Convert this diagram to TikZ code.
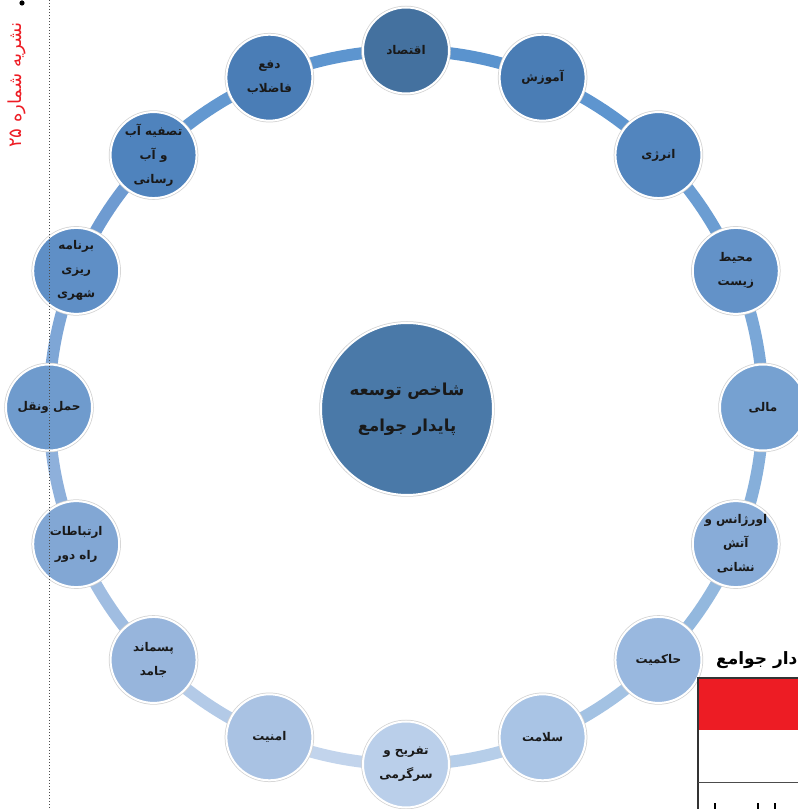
\documentclass[tikz,border=0pt]{standalone}
\usepackage{fontspec}
\newfontfamily\arabicfont[Script=Arabic]{DejaVu Sans}
\TeXXeTstate=1
\newcommand{\fa}[1]{{\arabicfont\beginR #1\endR}}
\definecolor{c0}{HTML}{44719F}
\definecolor{c1}{HTML}{4A7DB5}
\definecolor{c2}{HTML}{5285BE}
\definecolor{c3}{HTML}{6392C8}
\definecolor{c4}{HTML}{76A1D1}
\definecolor{c5}{HTML}{88ACD8}
\definecolor{c6}{HTML}{99B8DF}
\definecolor{c7}{HTML}{A9C4E5}
\definecolor{c8}{HTML}{BACFEA}
\definecolor{c9}{HTML}{A9C2E3}
\definecolor{c10}{HTML}{97B5DC}
\definecolor{c11}{HTML}{82A7D4}
\definecolor{c12}{HTML}{6F9BCD}
\definecolor{c13}{HTML}{5F8FC6}
\definecolor{c14}{HTML}{4F83BD}
\definecolor{c15}{HTML}{4A7DB6}
\definecolor{cc}{HTML}{4A79A8}
\definecolor{a0}{HTML}{5A93CE}
\definecolor{a1}{HTML}{5E95CF}
\definecolor{a2}{HTML}{6B9DD2}
\definecolor{a3}{HTML}{7AA7D7}
\definecolor{a4}{HTML}{86AFDA}
\definecolor{a5}{HTML}{93B8DE}
\definecolor{a6}{HTML}{A3C2E3}
\definecolor{a7}{HTML}{B6CEE9}
\definecolor{a8}{HTML}{C2D4EC}
\definecolor{a9}{HTML}{B3CAE7}
\definecolor{a10}{HTML}{A0BDE1}
\definecolor{a11}{HTML}{8EB0DB}
\definecolor{a12}{HTML}{7EA6D6}
\definecolor{a13}{HTML}{6E9BD1}
\definecolor{a14}{HTML}{6398D0}
\definecolor{a15}{HTML}{5D95CF}
\definecolor{pagered}{HTML}{ED1C24}
\begin{document}
\begin{tikzpicture}[x=1pt,y=1pt,
  ringnode/.style={circle, minimum size=86pt, inner sep=-20pt, align=center,
    draw=white, line width=2pt,
    preaction={draw=gray!35, line width=3.5pt},
    font=\arabicfont\bfseries\fontsize{12}{24}\selectfont, text=black!90},
  hubnode/.style={circle, minimum size=172pt, inner sep=0pt, align=center,
    fill=cc, draw=white, line width=2pt,
    preaction={draw=gray!35, line width=3.5pt},
    font=\arabicfont\bfseries\fontsize{16.5}{36}\selectfont, text=black!90},
  ringline/.style={line width=12pt}]
\useasboundingbox (0,0) rectangle (798,809);
\coordinate (C) at (406,401.5);
% ring arcs
\foreach \k in {0,...,15}{
  \pgfmathsetmacro{\sa}{90-22.5*\k}
  \pgfmathsetmacro{\ea}{90-22.5*(\k+1)}
  \draw[ringline, color=a\k] ([shift={(\sa:357)}]C) arc[start angle=\sa, end angle=\ea, radius=357];
}
% ring nodes
\node[ringnode, fill=c0] (n0) at ([shift={(90:357)}]C) {\fa{اقتصاد}};
\node[ringnode, fill=c1] (n1) at ([shift={(67.5:357)}]C) {\fa{آموزش}};
\node[ringnode, fill=c2] (n2) at ([shift={(45:357)}]C) {\fa{انرژی}};
\node[ringnode, fill=c3] (n3) at ([shift={(22.5:357)}]C) {\fa{محیط}\\\fa{زیست}};
\node[ringnode, fill=c4] (n4) at ([shift={(0:357)}]C) {\fa{مالی}};
\node[ringnode, fill=c5] (n5) at ([shift={(-22.5:357)}]C) {\fa{اورژانس و}\\\fa{آتش}\\\fa{نشانی}};
\node[ringnode, fill=c6] (n6) at ([shift={(-45:357)}]C) {\fa{حاکمیت}};
\node[ringnode, fill=c7] (n7) at ([shift={(-67.5:357)}]C) {\fa{سلامت}};
\node[ringnode, fill=c8] (n8) at ([shift={(-90:357)}]C) {\fa{تفریح و}\\\fa{سرگرمی}};
\node[ringnode, fill=c9] (n9) at ([shift={(-112.5:357)}]C) {\fa{امنیت}};
\node[ringnode, fill=c10] (n10) at ([shift={(-135:357)}]C) {\fa{پسماند}\\\fa{جامد}};
\node[ringnode, fill=c11] (n11) at ([shift={(-157.5:357)}]C) {\fa{ارتباطات}\\\fa{راه دور}};
\node[ringnode, fill=c12] (n12) at ([shift={(180:357)}]C) {\fa{حمل ونقل}};
\node[ringnode, fill=c13] (n13) at ([shift={(157.5:357)}]C) {\fa{برنامه}\\\fa{ریزی}\\\fa{شهری}};
\node[ringnode, fill=c14] (n14) at ([shift={(135:357)}]C) {\fa{تصفیه آب}\\\fa{و آب}\\\fa{رسانی}};
\node[ringnode, fill=c15] (n15) at ([shift={(112.5:357)}]C) {\fa{دفع}\\\fa{فاضلاب}};
% hub
\node[hubnode] (hub) at (407,400) {\fa{شاخص توسعه}\\\fa{پایدار جوامع}};
% page margin elements
\coordinate (dtop) at (49,809);
\coordinate (dbot) at (49,0);
\draw[black!70, line width=1pt, dash pattern=on 1pt off 2pt] (dtop) -- (dbot);
\fill[black] (22,806) circle[radius=2.6];
\node[rotate=90, text=pagered, font=\arabicfont\fontsize{18}{20}\selectfont, inner sep=0pt] (issue) at (17,724) {\fa{نشریه شماره ۲۵}};
% table fragment
\node[anchor=west, inner sep=0pt, font=\arabicfont\bfseries\fontsize{17}{19}\selectfont] (ttitle) at (716,149) {\fa{دار جوامع}};
\fill[pagered] (698,79) rectangle (800,131);
\draw[black!80, line width=1.2pt] (800,131) -- (698,131) -- (698,0);
\draw[black!70, line width=1pt] (698,26) -- (800,26);
\draw[black, line width=1.6pt] (715,0) -- (715,6);
\draw[black, line width=1.6pt] (758,0) -- (758,6);
\draw[black, line width=1.6pt] (775,0) -- (775,6);
\end{tikzpicture}
\end{document}
